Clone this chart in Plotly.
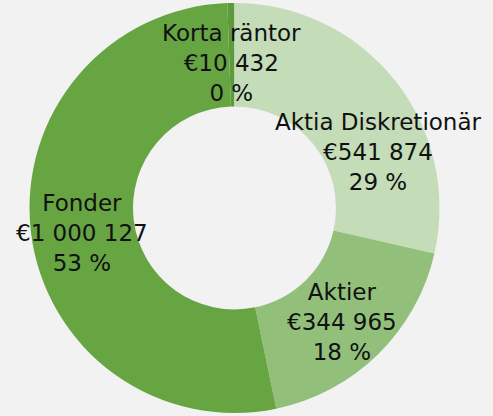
import plotly.graph_objects as go

# slices, clockwise from 12 o'clock
names = ["Korta räntor", "Aktia Diskretionär", "Aktier", "Fonder"]
values = [10432, 541874, 344965, 1000127]
percent_labels = ["0 %", "29 %", "18 %", "53 %"]
colors = ["#5c9a3c", "#c4dcb8", "#92c07b", "#66a542"]

# where each label block sits (pixels from top-left)
label_pos = [(231, 63), (378, 152), (342, 322), (82, 233)]

W, H = 493, 416
cx, cy, r = 234.5, 208, 205

fig = go.Figure(go.Pie(
    labels=names, values=values, sort=False, direction="clockwise",
    rotation=-2, hole=0.495, textinfo="none", hoverinfo="label+value",
    marker=dict(colors=colors, line=dict(width=0)),
    domain=dict(x=[(cx - r) / W, (cx + r) / W], y=[(H - cy - r) / H, (H - cy + r) / H]),
))

for name, val, pct, (x, y) in zip(names, values, percent_labels, label_pos):
    money = "€" + f"{val:,}".replace(",", " ")
    fig.add_annotation(
        x=x / W, y=1 - y / H, xref="paper", yref="paper", showarrow=False,
        text=f"{name}<br>{money}<br>{pct}", align="center",
        xanchor="center", yanchor="middle",
        font=dict(family="DejaVu Sans", size=23, color="#111111"),
    )

fig.update_layout(
    width=W, height=H, showlegend=False,
    margin=dict(l=0, r=0, t=0, b=0),
    paper_bgcolor="#f2f2f2", plot_bgcolor="#f2f2f2",
)
# drop the default page margin so the figure fills the window
fig.write_html("out.html", config={"displayModeBar": False},
               post_script="document.body.style.margin='0';")
